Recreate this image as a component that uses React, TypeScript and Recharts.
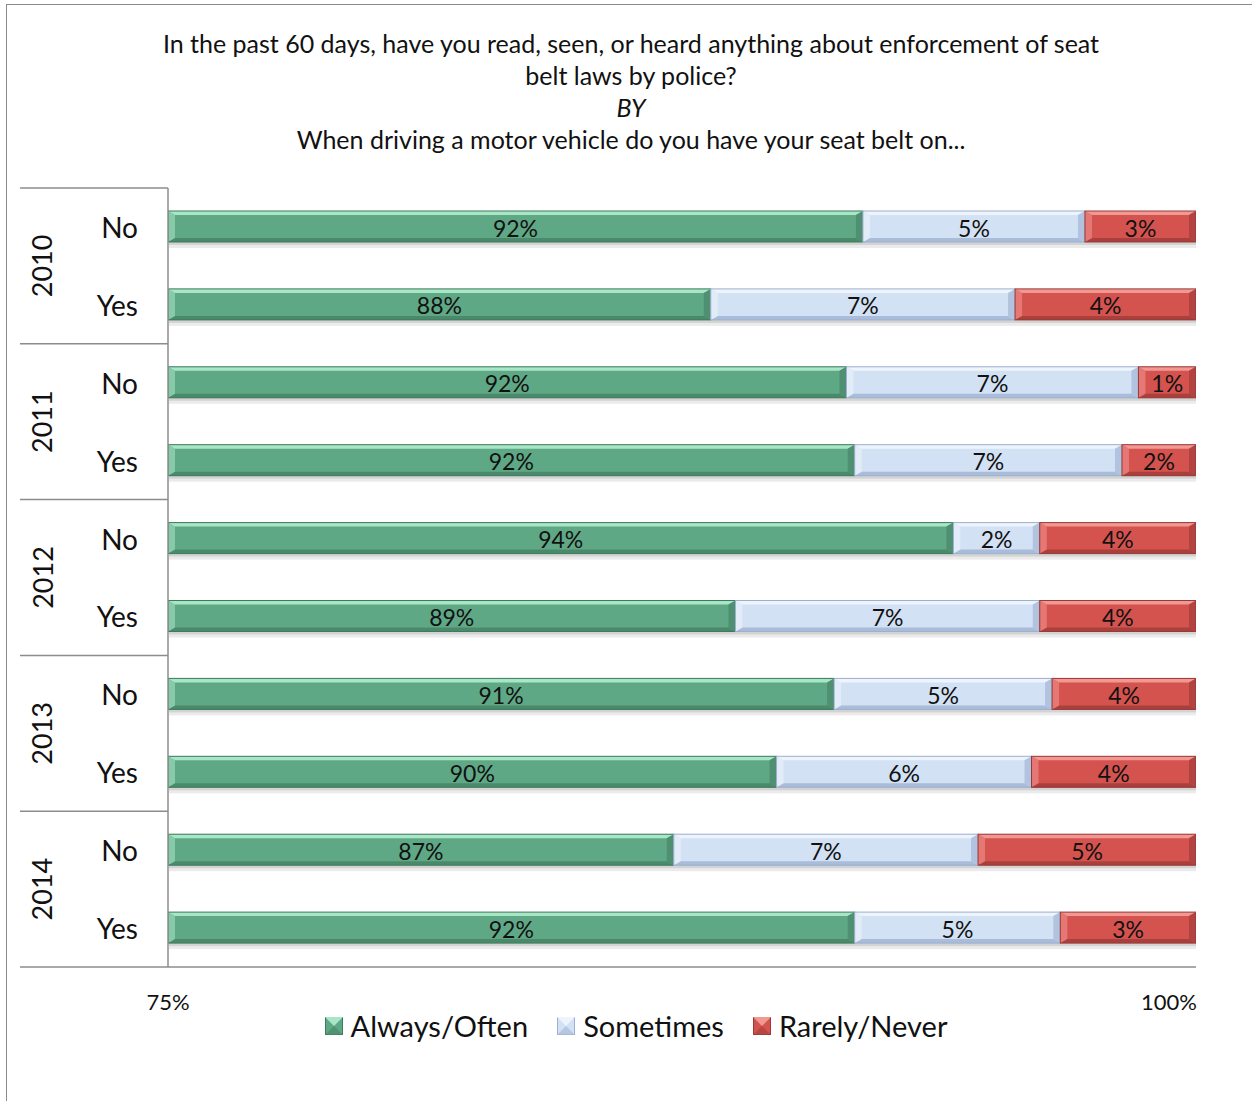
import { BarChart, Bar, XAxis, YAxis, LabelList, Legend } from "recharts";

const years = ["2010", "2011", "2012", "2013", "2014"];
const answers = ["No", "Yes"];
const alwaysOften = [91.9, 88.2, 91.5, 91.7, 94.1, 88.8, 91.2, 89.8, 87.3, 91.7];
const sometimes = [5.4, 7.4, 7.1, 6.5, 2.1, 7.4, 5.3, 6.2, 7.4, 5.0];
const rarelyNever = [2.7, 4.4, 1.4, 1.8, 3.8, 3.8, 3.5, 4.0, 5.3, 3.3];
const seriesNames = ["Always/Often", "Sometimes", "Rarely/Never"];
const xTicks = [75, 100];

const FONT = "Lato, 'DejaVu Sans', sans-serif";
const PLOT_LEFT = 168;
const PLOT_TOP = 188;
const PLOT_BOTTOM = 967;

const rows = years.flatMap((yr, i) =>
  answers.map((a, j) => {
    const k = i * 2 + j;
    return {
      key: `${yr}|${a}`,
      always: alwaysOften[k],
      sometimes: sometimes[k],
      rarely: rarelyNever[k],
    };
  })
);
const BAND = (PLOT_BOTTOM - PLOT_TOP) / rows.length;
const lastKey = rows[rows.length - 1].key;

const TONES: Record<string, { top: string; body: string; bottom: string; edge: string }> = {
  always: { top: "#a8e6c6", body: "#5fa886", bottom: "#4a8a6b", edge: "#3f7a5e" },
  sometimes: { top: "#eef4fc", body: "#d3e1f4", bottom: "#a9bcd9", edge: "#9cb0cf" },
  rarely: { top: "#f29893", body: "#d5534f", bottom: "#a9403c", edge: "#983a37" },
};
const nameToTone: Record<string, string> = {
  "Always/Often": "always",
  Sometimes: "sometimes",
  "Rarely/Never": "rarely",
};

const BevelBar = (props: any) => {
  const { x, y, width: w, height: h, tone } = props;
  const t = TONES[tone];
  if (!w || w <= 0) return null;
  const b = 4;
  const s = 7;
  return (
    <g>
      <rect x={x + 1} y={y + 3} width={w} height={h + 3} fill="#000" opacity={0.08} />
      <rect x={x + 1} y={y + 2} width={w} height={h + 1} fill="#000" opacity={0.1} />
      <rect x={x} y={y} width={w} height={h} fill={t.body} />
      <polygon points={`${x},${y} ${x + w},${y} ${x + w - s},${y + b} ${x + s},${y + b}`} fill={t.top} />
      <polygon points={`${x},${y + h} ${x + w},${y + h} ${x + w - s},${y + h - b} ${x + s},${y + h - b}`} fill={t.bottom} />
      <polygon points={`${x},${y} ${x + s},${y + b} ${x + s},${y + h - b} ${x},${y + h}`} fill={t.top} opacity={0.55} />
      <polygon points={`${x + w},${y} ${x + w - s},${y + b} ${x + w - s},${y + h - b} ${x + w},${y + h}`} fill={t.bottom} opacity={0.8} />
      <rect x={x} y={y} width={w} height={h} fill="none" stroke={t.edge} strokeWidth={1} />
    </g>
  );
};

const SegmentLabel = (props: any) => {
  const { x, y, width, height, value } = props;
  const left = Math.max(x, PLOT_LEFT);
  const cx = (left + x + width) / 2;
  return (
    <text x={cx} y={y + height / 2 + 1} textAnchor="middle" dominantBaseline="central" fontFamily={FONT} fontSize={23} fill="#111">
      {`${Math.round(value)}%`}
    </text>
  );
};

const CategoryTick = (props: any) => {
  const { x, y, payload } = props;
  const [year, answer] = String(payload.value).split("|");
  const first = answer === answers[0];
  const last = payload.value === lastKey;
  return (
    <g>
      <text x={x} y={y} textAnchor="end" dominantBaseline="central" fontFamily={FONT} fontSize={28} fill="#111">
        {answer}
      </text>
      {first && (
        <text
          x={x - 96}
          y={y + BAND / 2}
          textAnchor="middle"
          dominantBaseline="central"
          fontFamily={FONT}
          fontSize={27}
          fill="#111"
          transform={`rotate(-90 ${x - 96} ${y + BAND / 2})`}
        >
          {year}
        </text>
      )}
      {first && <line x1={x - 118} x2={x + 30} y1={y - BAND / 2} y2={y - BAND / 2} stroke="#8c8c8c" strokeWidth={1.5} />}
      {last && <line x1={x - 118} x2={x + 30} y1={y + BAND / 2} y2={y + BAND / 2} stroke="#8c8c8c" strokeWidth={1.5} />}
    </g>
  );
};

const PercentTick = (props: any) => {
  const { x, y, payload } = props;
  const end = payload.value === xTicks[xTicks.length - 1];
  return (
    <text x={end ? x + 1 : x} y={y + 34} textAnchor={end ? "end" : "middle"} dominantBaseline="central" fontFamily={FONT} fontSize={22} fill="#111">
      {`${payload.value}%`}
    </text>
  );
};

const LegendIcon = ({ tone }: { tone: string }) => {
  const t = TONES[tone];
  return (
    <svg width={18} height={18} style={{ display: "block" }}>
      <rect x={0.5} y={0.5} width={17} height={17} fill={t.body} stroke={t.edge} />
      <polygon points="0,0 18,0 9,9" fill={t.top} />
      <polygon points="0,18 18,18 9,9" fill={t.bottom} opacity={0.7} />
    </svg>
  );
};

const LegendContent = (props: any) => {
  const items = [...(props.payload || [])].sort(
    (a: any, b: any) => seriesNames.indexOf(a.value) - seriesNames.indexOf(b.value)
  );
  return (
    <div style={{ display: "flex", justifyContent: "center", gap: 29, fontFamily: FONT, fontSize: 29, color: "#111" }}>
      {items.map((p: any) => (
        <div key={p.value} style={{ display: "flex", alignItems: "center" }}>
          <LegendIcon tone={nameToTone[p.value] || "always"} />
          <span style={{ marginLeft: 8, lineHeight: "36px" }}>{p.value}</span>
        </div>
      ))}
    </div>
  );
};

const App = () => {
  return (
    <div style={{ position: "absolute", left: 0, top: 0, width: 1252, height: 1101, overflow: "hidden", background: "#fff" }}>
      <div
        style={{
          position: "absolute",
          left: 6,
          top: 4,
          width: 1400,
          height: 1300,
          border: "1.5px solid #8a8a8a",
        }}
      />
      <div
        style={{
          position: "absolute",
          left: 0,
          top: 27,
          width: 1262,
          textAlign: "center",
          fontFamily: FONT,
          fontSize: 25,
          lineHeight: "32px",
          color: "#111",
        }}
      >
        <div>In the past 60 days, have you read, seen, or heard anything about enforcement of seat</div>
        <div>belt laws by police?</div>
        <div style={{ fontStyle: "italic" }}>BY</div>
        <div>When driving a motor vehicle do you have your seat belt on...</div>
      </div>
      <div style={{ position: "absolute", left: 0, top: 0 }}>
        <BarChart
          width={1252}
          height={1101}
          data={rows}
          layout="vertical"
          barSize={31}
          margin={{ top: PLOT_TOP, right: 56, bottom: 94, left: 20 }}
        >
          <XAxis
            type="number"
            domain={[75, 100]}
            ticks={xTicks}
            allowDataOverflow
            height={40}
            tickSize={0}
            tickMargin={0}
            tick={<PercentTick />}
            axisLine={{ stroke: "#8c8c8c", strokeWidth: 1.5 }}
          />
          <YAxis
            type="category"
            dataKey="key"
            width={148}
            tickSize={0}
            tickMargin={30}
            interval={0}
            tick={<CategoryTick />}
            axisLine={{ stroke: "#8c8c8c", strokeWidth: 1.5 }}
          />
          <Legend
            layout="horizontal"
            verticalAlign="middle"
            align="center"
            itemSorter={null}
            content={<LegendContent />}
            wrapperStyle={{ position: "absolute", top: 1008, left: 10, width: 1252 }}
          />
          <Bar dataKey="always" name={seriesNames[0]} stackId="s" fill="#5fa886" isAnimationActive={false} shape={(p: any) => <BevelBar {...p} tone="always" />}>
            <LabelList dataKey="always" content={<SegmentLabel />} />
          </Bar>
          <Bar dataKey="sometimes" name={seriesNames[1]} stackId="s" fill="#d3e1f4" isAnimationActive={false} shape={(p: any) => <BevelBar {...p} tone="sometimes" />}>
            <LabelList dataKey="sometimes" content={<SegmentLabel />} />
          </Bar>
          <Bar dataKey="rarely" name={seriesNames[2]} stackId="s" fill="#d5534f" isAnimationActive={false} shape={(p: any) => <BevelBar {...p} tone="rarely" />}>
            <LabelList dataKey="rarely" content={<SegmentLabel />} />
          </Bar>
        </BarChart>
      </div>
    </div>
  );
};

export default App;
